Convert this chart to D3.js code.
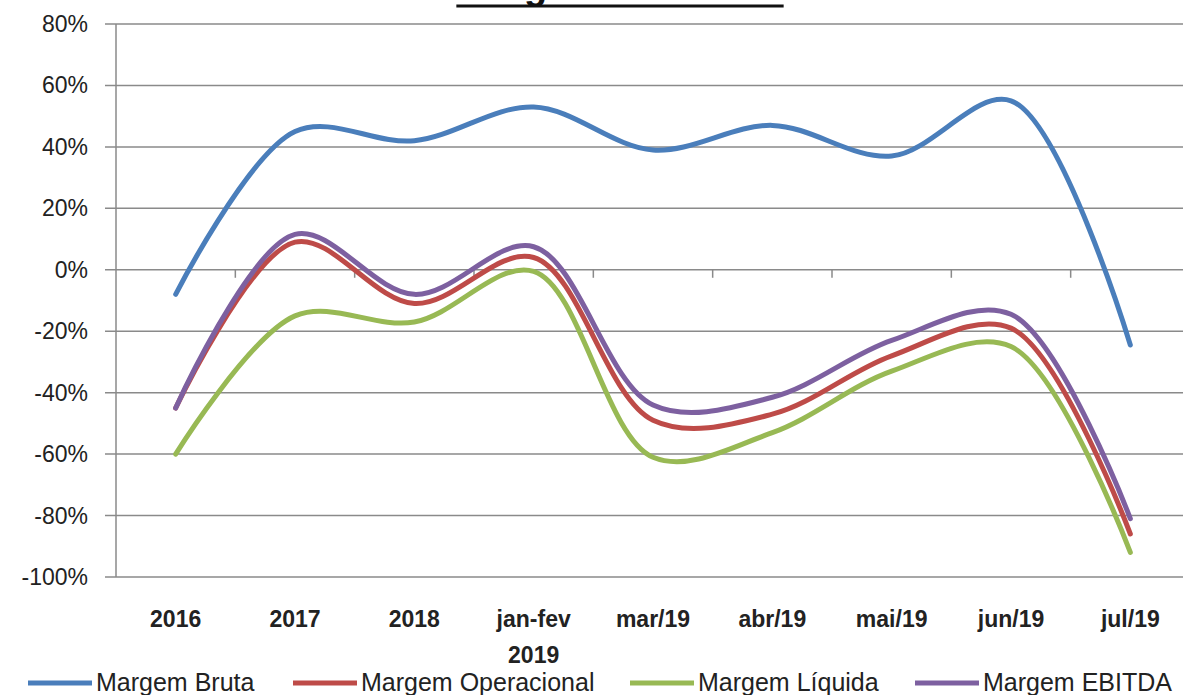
<!DOCTYPE html>
<html lang="pt">
  <head>
    <meta charset="UTF-8" />
    <title>Margens de Lucro</title>
    <script src="https://d3js.org/d3.v7.min.js"></script>
    <style>
      body {
        margin: 0;
        background: #fff;
        font-family: 'Liberation Sans', Arial, sans-serif;
      }
      .grid line {
        stroke: #8a8a8a;
        stroke-width: 1.5px;
      }
      .series {
        fill: none;
        stroke-width: 5px;
        stroke-linecap: round;
        stroke-linejoin: round;
      }
    </style>
  </head>
  <body>
    <div id="chart"></div>
    <script>
      // chart data (percent values)
      const categories = [
        '2016', '2017', '2018', 'jan-fev 2019', 'mar/19',
        'abr/19', 'mai/19', 'jun/19', 'jul/19',
      ];
      const margemBruta = [-8, 45, 42, 53, 39, 47, 37, 55, -24.5];
      const margemOperacional = [-45, 9, -11, 4, -49, -47, -28, -19, -86];
      const margemLiquida = [-60, -15, -17, -0.5, -61, -53, -33, -25, -92];
      const margemEbitda = [-45, 11.5, -8, 7.5, -44, -41.5, -23, -14.5, -81];
      const seriesNames = [
        'Margem Bruta', 'Margem Operacional', 'Margem Líquida', 'Margem EBITDA',
      ];
      const seriesColors = ['#4a7ebb', '#be4b48', '#98b954', '#7d60a0'];
      const yTicks = [80, 60, 40, 20, 0, -20, -40, -60, -80, -100];

      const width = 1183;
      const height = 695;
      const margin = { top: 24, left: 116, right: -7, bottom: 118 };

      const svg = d3
        .select('#chart')
        .append('svg')
        .attr('width', width)
        .attr('height', height);

      const x = d3
        .scaleBand()
        .domain(categories)
        .range([margin.left, width - margin.right]);

      const y = d3
        .scaleLinear()
        .domain([-100, 80])
        .range([height - margin.bottom, margin.top]);

      // horizontal gridlines + y ticks
      const grid = svg.append('g').attr('class', 'grid');
      grid
        .selectAll('line')
        .data(yTicks)
        .join('line')
        .attr('x1', margin.left - 11)
        .attr('x2', width - margin.right)
        .attr('y1', (d) => y(d))
        .attr('y2', (d) => y(d));

      svg
        .append('line')
        .attr('x1', margin.left)
        .attr('x2', margin.left)
        .attr('y1', y(80))
        .attr('y2', y(-100))
        .attr('stroke', '#8a8a8a')
        .attr('stroke-width', 1.5);

      svg
        .append('g')
        .selectAll('text')
        .data(yTicks)
        .join('text')
        .attr('x', 88)
        .attr('y', (d) => y(d) + 8)
        .attr('text-anchor', 'end')
        .attr('font-size', 23)
        .attr('fill', '#222')
        .text((d) => d + '%');

      // category boundary ticks on the 0% line
      const boundaries = categories.slice(1).map((c) => x(c));
      svg
        .append('g')
        .selectAll('line')
        .data(boundaries)
        .join('line')
        .attr('x1', (d) => d)
        .attr('x2', (d) => d)
        .attr('y1', y(0))
        .attr('y2', y(0) + 8)
        .attr('stroke', '#8a8a8a')
        .attr('stroke-width', 1.5);

      // category labels (bold, may wrap to two lines)
      const labels = svg
        .append('g')
        .selectAll('text')
        .data(categories)
        .join('text')
        .attr('text-anchor', 'middle')
        .attr('font-size', 23)
        .attr('font-weight', 'bold')
        .attr('fill', '#222');

      labels.each(function (d) {
        const parts = d.split(' ');
        const cx = x(d) + x.bandwidth() / 2;
        d3.select(this)
          .selectAll('tspan')
          .data(parts)
          .join('tspan')
          .attr('x', cx)
          .attr('y', (p, i) => 627 + i * 36)
          .text((p) => p);
      });

      // series lines
      const seriesData = [margemBruta, margemOperacional, margemLiquida, margemEbitda];
      const line = d3
        .line()
        .x((d, i) => x(categories[i]) + x.bandwidth() / 2)
        .y((d) => y(d))
        .curve(d3.curveCatmullRom.alpha(0.5));

      svg
        .append('g')
        .selectAll('path')
        .data(seriesData)
        .join('path')
        .attr('class', 'series')
        .attr('stroke', (d, i) => seriesColors[i])
        .attr('d', line);

      // title, mostly cut off at the top
      const title = svg
        .append('text')
        .attr('x', 620)
        .attr('y', -1)
        .attr('text-anchor', 'middle')
        .attr('font-size', 38)
        .attr('font-weight', 'bold')
        .attr('fill', '#111')
        .text('Margens de Lucro');
      const tw = title.node().getComputedTextLength();
      svg
        .append('line')
        .attr('x1', 620 - tw / 2)
        .attr('x2', 620 + tw / 2)
        .attr('y1', 6)
        .attr('y2', 6)
        .attr('stroke', '#111')
        .attr('stroke-width', 3);

      // legend
      const legendX = [28, 293, 630, 915];
      const legend = svg
        .append('g')
        .selectAll('g')
        .data(seriesNames)
        .join('g')
        .attr('transform', (d, i) => `translate(${legendX[i]},683)`);

      legend
        .append('line')
        .attr('x1', 0)
        .attr('x2', 64)
        .attr('stroke', (d, i) => seriesColors[i])
        .attr('stroke-width', 5);

      legend
        .append('text')
        .attr('x', 68)
        .attr('y', 8)
        .attr('font-size', 25)
        .attr('fill', '#222')
        .text((d) => d);
    </script>
  </body>
</html>
